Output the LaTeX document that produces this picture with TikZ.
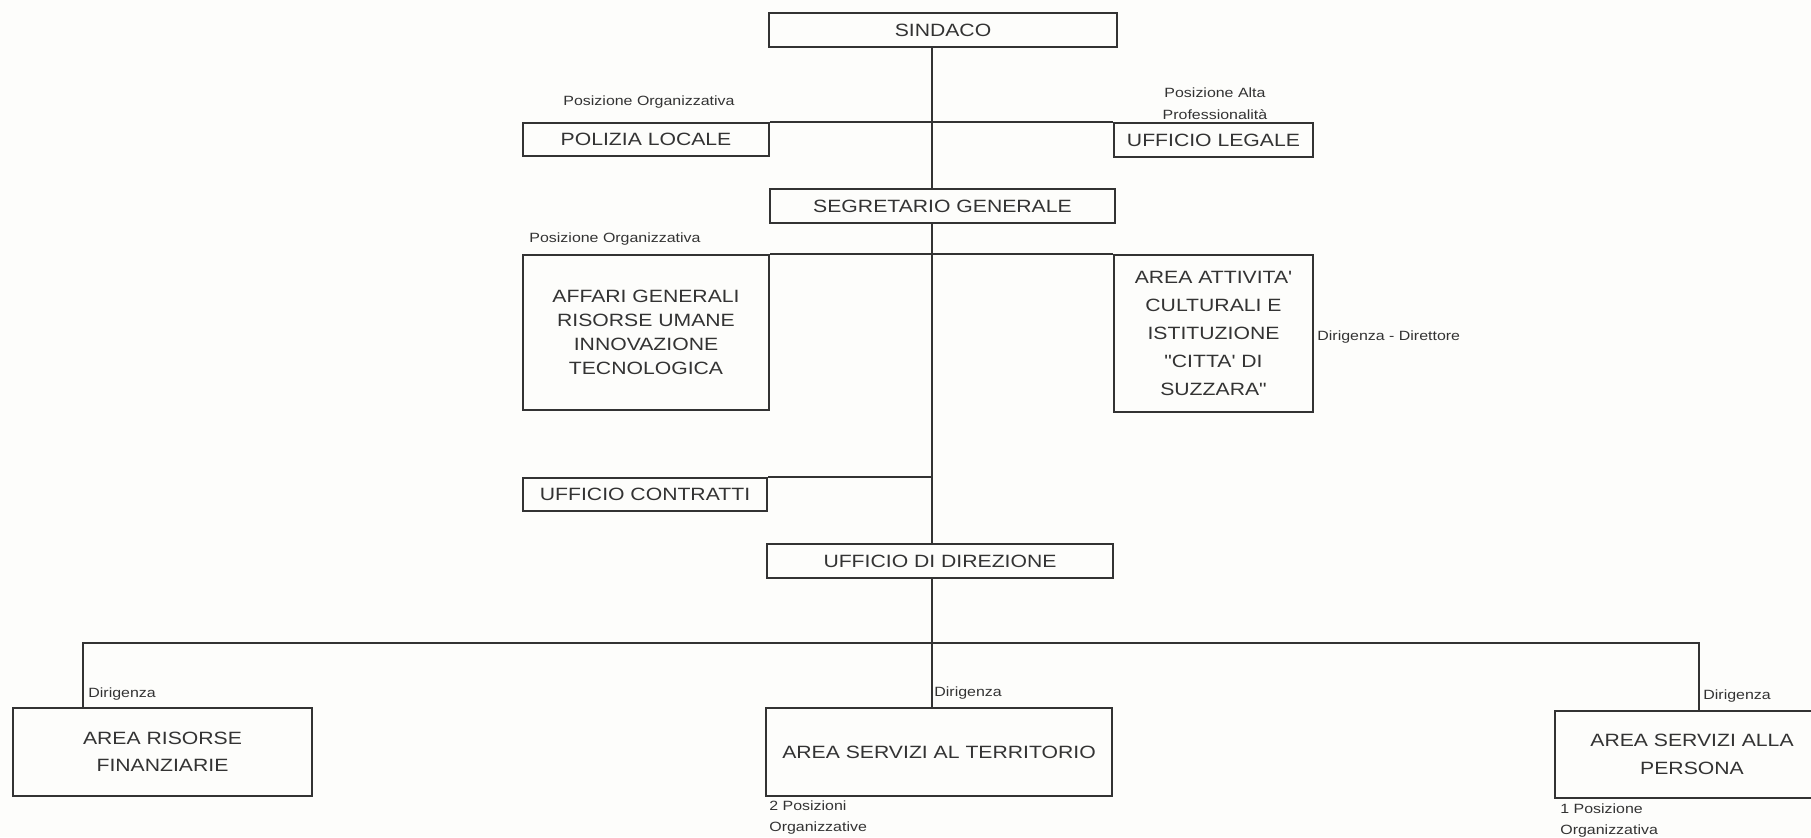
\documentclass[tikz,border=0pt]{standalone}
\usepackage{fontspec}
\newfontfamily\chartfont{Liberation Sans}[FakeStretch=1.19]
\definecolor{ink}{HTML}{333333}
\definecolor{paper}{HTML}{FDFDFB}
\begin{document}
\begin{tikzpicture}[x=0.5pt,y=-0.5pt,
  box/.style={draw=ink, line width=1pt, inner sep=0pt, text=ink, align=center,
    font=\chartfont\fontsize{8.9}{12}\selectfont},
  lbl/.style={inner sep=0pt, text=ink, font=\chartfont\fontsize{6.7}{10.5}\selectfont},
  link/.style={draw=ink, line width=1pt}]
\useasboundingbox (0,0) rectangle (1811,837);
\clip (0,0) rectangle (1811,837);
\fill[paper] (0,0) rectangle (1811,837);
\coordinate (spine) at (932,0);
\coordinate (busL) at (83,643);
\coordinate (busR) at (1699,643);

% boxes
\node[box, minimum width=174pt, minimum height=17pt] (sindaco) at (943,30) {SINDACO};
\node[box, minimum width=123pt, minimum height=16.5pt] (polizia) at (646,139.5) {POLIZIA LOCALE};
\node[box, minimum width=99.5pt, minimum height=17pt] (legale) at (1213.5,140) {UFFICIO LEGALE};
\node[box, minimum width=172.5pt, minimum height=17pt] (segretario) at (942.5,206) {SEGRETARIO GENERALE};
\node[box, minimum width=123pt, minimum height=77.5pt] (affari) at (646,332.5)
  {AFFARI GENERALI\\RISORSE UMANE\\INNOVAZIONE\\TECNOLOGICA};
\node[box, minimum width=99.5pt, minimum height=78.5pt, font=\chartfont\fontsize{8.9}{14}\selectfont] (attivita) at (1213.5,333.5)
  {AREA ATTIVITA'\\CULTURALI E\\ISTITUZIONE\\"CITTA' DI\\SUZZARA"};
\node[box, minimum width=122pt, minimum height=16.5pt] (contratti) at (645,494.5) {UFFICIO CONTRATTI};
\node[box, minimum width=173pt, minimum height=17pt] (direzione) at (940,561) {UFFICIO DI DIREZIONE};
\node[box, minimum width=149.5pt, minimum height=44pt, font=\chartfont\fontsize{8.9}{13.5}\selectfont] (risorse) at (162.5,752)
  {AREA RISORSE\\FINANZIARIE};
\node[box, minimum width=173pt, minimum height=44pt] (territorio) at (939,752) {AREA SERVIZI AL TERRITORIO};
\node[box, minimum width=137pt, minimum height=43.5pt, font=\chartfont\fontsize{8.9}{14}\selectfont] (persona) at (1692,754.5)
  {AREA SERVIZI ALLA\\PERSONA};

% connectors
\draw[link] (sindaco.south -| spine) -- (segretario.north -| spine);
\draw[link] (polizia.north east) -- (legale.north west);
\draw[link] (segretario.south -| spine) -- (direzione.north -| spine);
\draw[link] (affari.north east) -- (attivita.north west);
\draw[link] (contratti.north east) -- (contratti.north -| spine);
\draw[link] (direzione.south -| spine) -- (territorio.north -| spine);
\draw[link] (risorse.north -| busL) -- (busL) -- (busR) -- (persona.north -| busR);

% labels
\node[lbl] (po1) at (649,102) {Posizione Organizzativa};
\node[lbl, align=center, font=\chartfont\fontsize{6.7}{11}\selectfont] (pap) at (1215,104) {Posizione Alta\\Professionalità};
\node[lbl] (po2) at (615,239) {Posizione Organizzativa};
\node[lbl, anchor=west] (dd) at (1317,337) {Dirigenza - Direttore};
\node[lbl, anchor=west] (dir1) at (88,694) {Dirigenza};
\node[lbl, anchor=west] (dir2) at (934,693) {Dirigenza};
\node[lbl, anchor=west] (dir3) at (1703,696) {Dirigenza};
\node[lbl, anchor=west, align=left] (pos2) at (769,817.5) {2 Posizioni\\Organizzative};
\node[lbl, anchor=west, align=left] (pos1) at (1560,821) {1 Posizione\\Organizzativa};
\end{tikzpicture}
\end{document}
